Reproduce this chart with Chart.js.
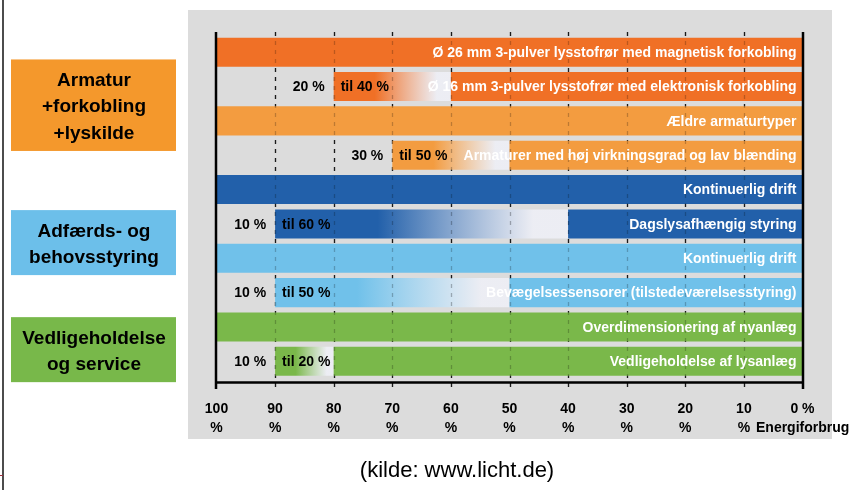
<!DOCTYPE html>
<html><head><meta charset="utf-8">
<script src="https://cdn.jsdelivr.net/npm/chart.js@4.4.0/dist/chart.umd.min.js"></script>
<style>html,body{margin:0;padding:0;background:#fff;}#wrap{width:858px;height:490px;position:relative;}canvas{display:block;}</style>
</head><body><div id="wrap"><canvas id="c" width="858" height="490"></canvas></div>
<script>
// ---- data ----
const rowNames = [
  "Ø 26 mm 3-pulver lysstofrør med magnetisk forkobling",
  "Ø 16 mm 3-pulver lysstofrør med elektronisk forkobling",
  "Ældre armaturtyper",
  "Armaturer med høj virkningsgrad og lav blænding",
  "Kontinuerlig drift",
  "Dagslysafhængig styring",
  "Kontinuerlig drift",
  "Bevægelsessensorer (tilstedeværelsesstyring)",
  "Overdimensionering af nyanlæg",
  "Vedligeholdelse af lysanlæg"
];
const baseConsumption = [100, 100, 100, 100, 100, 100, 100, 100, 100, 100];
const savingFrom = [null, 20, null, 30, null, 10, null, 10, null, 10];
const savingTo   = [null, 40, null, 50, null, 60, null, 50, null, 20];
const rowGroup = [0, 0, 0, 0, 1, 1, 1, 1, 2, 2];
const rowShade = ["dark", "dark", "light", "light", "dark", "dark", "light", "light", "dark", "dark"];
const groupLabels = [["Armatur", "+forkobling", "+lyskilde"], ["Adfærds- og", "behovsstyring"], ["Vedligeholdelse", "og service"]];
const xTickValues = [100, 90, 80, 70, 60, 50, 40, 30, 20, 10, 0];
const xAxisTitle = "Energiforbrug";
const sourceText = "(kilde: www.licht.de)";

// ---- styles ----
const FONT = "'Liberation Sans', Arial, sans-serif";
const palette = [
  { dark: "rgb(240,112,38)", light: "rgb(243,156,64)", box: "rgb(244,152,44)" },
  { dark: "rgb(34,96,170)", light: "rgb(112,193,234)", box: "rgb(108,191,234)" },
  { dark: "rgb(122,184,74)", light: "rgb(122,184,74)", box: "rgb(120,184,74)" }
];
const rowColors = rowNames.map((_, i) => palette[rowGroup[i]][rowShade[i]]);

const solidData = rowNames.map((_, i) => [0, savingTo[i] == null ? baseConsumption[i] : baseConsumption[i] - savingTo[i]]);
const rangeData = rowNames.map((_, i) => savingTo[i] == null ? null : [baseConsumption[i] - savingTo[i], baseConsumption[i] - savingFrom[i]]);

function rangeFill(c) {
  const chart = c.chart;
  if (!chart.chartArea || c.type !== 'data') return 'transparent';
  const d = rangeData[c.dataIndex];
  if (!d) return 'transparent';
  const xs = chart.scales.x;
  const a = xs.getPixelForValue(d[1]), b = xs.getPixelForValue(d[0]);
  const g = chart.ctx.createLinearGradient(a, 0, b, 0);
  const col = rowColors[c.dataIndex];
  g.addColorStop(0, col);
  g.addColorStop(0.35, col);
  g.addColorStop(0.88, 'rgba(238,239,246,0.9)');
  g.addColorStop(1, 'rgba(238,239,246,0.9)');
  return g;
}

const TOP = 35, BOTTOM = 378.5, XH = 60;

function drawGrid(ctx, chart, color, width) {
  const xs = chart.scales.x;
  ctx.save();
  ctx.strokeStyle = color; ctx.lineWidth = width; ctx.setLineDash([4, 5]);
  xTickValues.forEach(v => {
    if (v === 0 || v === 100) return;
    const x = Math.round(xs.getPixelForValue(v)) + 0.5;
    ctx.beginPath(); ctx.moveTo(x, 32); ctx.lineTo(x, 389); ctx.stroke();
  });
  ctx.restore();
}

const deco = {
  id: 'deco',
  beforeDraw(chart) {
    const ctx = chart.ctx;
    ctx.save();
    ctx.fillStyle = '#fff'; ctx.fillRect(0, 0, 858, 490);
    // left border
    ctx.strokeStyle = '#111'; ctx.lineWidth = 1.5;
    ctx.beginPath(); ctx.moveTo(3, 0); ctx.lineTo(3, 490); ctx.stroke();
    ctx.strokeStyle = '#a03040'; ctx.lineWidth = 1;
    ctx.beginPath(); ctx.moveTo(0, 475.5); ctx.lineTo(3, 475.5); ctx.stroke();
    // panel
    ctx.fillStyle = 'rgb(220,220,220)'; ctx.fillRect(188, 10, 644, 429);
    // group boxes
    const ys = chart.scales.y;
    groupLabels.forEach((lines, g) => {
      const idx = rowGroup.map((r, i) => r === g ? i : -1).filter(i => i >= 0);
      const cy = (ys.getPixelForValue(idx[0]) + ys.getPixelForValue(idx[idx.length - 1])) / 2 + (g === 2 ? 5.5 : 1.5);
      const h = lines.length * 26.5 + 12;
      ctx.fillStyle = palette[g].box;
      ctx.fillRect(11, cy - h / 2, 165, h);
      ctx.fillStyle = '#000'; ctx.font = 'bold 19px ' + FONT;
      ctx.textAlign = 'center'; ctx.textBaseline = 'middle';
      lines.forEach((t, k) => ctx.fillText(t, 94, cy + 2 + (k - (lines.length - 1) / 2) * 26.5));
    });
    // source
    ctx.fillStyle = '#000'; ctx.font = '22px ' + FONT; ctx.textAlign = 'center'; ctx.textBaseline = 'middle';
    ctx.fillText(sourceText, 457, 471);
    // axis title
    ctx.font = 'bold 14px ' + FONT; ctx.textAlign = 'left';
    ctx.fillText(xAxisTitle, 756, 428);
    ctx.restore();
  },
  beforeDatasetsDraw(chart) {
    drawGrid(chart.ctx, chart, '#222', 1.3);
  },
  afterDatasetsDraw(chart) {
    const ctx = chart.ctx, xs = chart.scales.x;
    drawGrid(ctx, chart, 'rgba(0,0,0,0.22)', 1.3);
    const x100 = xs.getPixelForValue(100), x0 = xs.getPixelForValue(0);
    ctx.save();
    ctx.strokeStyle = '#000'; ctx.lineWidth = 2.5;
    ctx.beginPath(); ctx.moveTo(x100 - 0.5, 32); ctx.lineTo(x100 - 0.5, 389); ctx.stroke();
    ctx.beginPath(); ctx.moveTo(x0 + 0.5, 32); ctx.lineTo(x0 + 0.5, 389); ctx.stroke();
    ctx.beginPath(); ctx.moveTo(x100 - 1.5, 382.5); ctx.lineTo(x0 + 1.5, 382.5); ctx.stroke();
    // bar texts
    const meta0 = chart.getDatasetMeta(0);
    ctx.font = 'bold 14px ' + FONT; ctx.textBaseline = 'middle';
    rowNames.forEach((name, i) => {
      const y = meta0.data[i].y;
      ctx.fillStyle = '#fff'; ctx.textAlign = 'right';
      ctx.fillText(name, x0 - 6, y + 1);
      const r = rangeData[i];
      if (r) {
        const xs0 = xs.getPixelForValue(r[1]);
        ctx.fillStyle = '#000';
        ctx.textAlign = 'right';
        ctx.fillText(savingFrom[i] + ' %', xs0 - 9, y + 1);
        ctx.textAlign = 'left';
        ctx.fillText('til ' + savingTo[i] + ' %', xs0 + 7, y + 1);
      }
    });
    ctx.restore();
  }
};

new Chart(document.getElementById('c'), {
  type: 'bar',
  data: {
    labels: rowNames.map((_, i) => 'r' + i),
    datasets: [
      { label: 'solid', data: solidData, backgroundColor: rowColors, grouped: false,
        barPercentage: 0.845, categoryPercentage: 1, borderWidth: 0 },
      { label: 'range', data: rangeData, backgroundColor: rangeFill, grouped: false,
        barPercentage: 0.845, categoryPercentage: 1, borderWidth: 0 }
    ]
  },
  options: {
    indexAxis: 'y', responsive: false, animation: false, devicePixelRatio: 1,
    layout: { padding: { left: 216.5, right: 55.5, top: TOP, bottom: 490 - BOTTOM - XH } },
    plugins: { legend: { display: false }, tooltip: { enabled: false } },
    scales: {
      x: {
        type: 'linear', min: 0, max: 100, reverse: true, position: 'bottom',
        afterBuildTicks: s => { s.ticks = xTickValues.map(v => ({ value: v })); },
        afterFit: s => { s.height = XH; },
        grid: { display: false, drawTicks: false }, border: { display: false },
        ticks: {
          autoSkip: false, maxRotation: 0, minRotation: 0, padding: 21, color: '#000',
          font: { family: FONT, size: 14, weight: 'bold', lineHeight: 1.36 },
          callback: v => v === 0 ? '0 %' : [String(v), '%']
        }
      },
      y: { display: false }
    }
  },
  plugins: [deco]
});
</script>
</body></html>
